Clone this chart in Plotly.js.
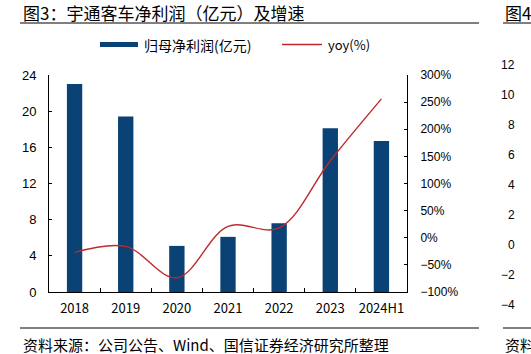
<!DOCTYPE html>
<html>
<head>
<meta charset="utf-8">
<script src="https://cdn.plot.ly/plotly-3.0.1.min.js"></script>
<style>
html,body{margin:0;padding:0;background:#fff;}
#chart{width:531px;height:354px;}
</style>
</head>
<body>
<div id="chart"></div>
<script>
// Data
const categories = ['2018', '2019', '2020', '2021', '2022', '2023', '2024H1'];
const netProfit = [23.0, 19.4, 5.1, 6.1, 7.6, 18.1, 16.7];   // 亿元
const yoy = [-27, -16, -74, 21, 18, 142, 256];              // %
const leftTicks = [0, 4, 8, 12, 16, 20, 24];
const rightTicks = [-100, -50, 0, 50, 100, 150, 200, 250, 300];
const ghostTicks = ['12', '10', '8', '6', '4', '2', '0', '−2', '−4'];

const W = 531, H = 354;
const L = 49, R = 407, T = 75, B = 292;
const px = x => (x - L) / (R - L);
const py = y => (B - y) / (B - T);

const cjk = '"Noto Sans CJK SC", "Liberation Sans", sans-serif';
const arial = '"Liberation Sans", Arial, sans-serif';
const barColor = '#0a4275';
const lineColor = '#c0282d';

const traces = [
  {
    type: 'bar', x: categories, y: netProfit, name: '归母净利润(亿元)',
    marker: {color: barColor}, width: 0.3, yaxis: 'y', showlegend: false,
    hoverinfo: 'skip'
  },
  {
    type: 'scatter', mode: 'lines', x: categories, y: yoy, name: 'yoy(%)',
    line: {color: lineColor, width: 1.4, shape: 'spline', smoothing: 1},
    yaxis: 'y2', showlegend: false, hoverinfo: 'skip'
  }
];

const shapes = [
  {type: 'line', xref: 'paper', yref: 'paper', x0: px(20), x1: px(479), y0: py(23), y1: py(23), line: {color: '#000', width: 1}},
  {type: 'line', xref: 'paper', yref: 'paper', x0: px(20), x1: px(479), y0: py(328), y1: py(328), line: {color: '#000', width: 1}},
  {type: 'line', xref: 'paper', yref: 'paper', x0: px(503), x1: px(532), y0: py(23), y1: py(23), line: {color: '#000', width: 1}},
  {type: 'line', xref: 'paper', yref: 'paper', x0: px(503), x1: px(532), y0: py(328), y1: py(328), line: {color: '#000', width: 1}},
  {type: 'rect', xref: 'paper', yref: 'paper', x0: px(100), x1: px(138), y0: py(47), y1: py(42), fillcolor: barColor, line: {width: 0}},
  {type: 'line', xref: 'paper', yref: 'paper', x0: px(282), x1: px(322), y0: py(44.5), y1: py(44.5), line: {color: lineColor, width: 1.4}}
];

const annotations = [
  {text: '图3：宇通客车净利润（亿元）及增速', xref: 'paper', yref: 'paper', x: px(21), y: py(12), xanchor: 'left', yanchor: 'middle', showarrow: false, font: {family: cjk, size: 17, color: '#000', weight: 'normal'}},
  {text: '资料来源：公司公告、Wind、国信证券经济研究所整理', xref: 'paper', yref: 'paper', x: px(21), y: py(344), xanchor: 'left', yanchor: 'middle', showarrow: false, font: {family: cjk, size: 15, color: '#000'}},
  {text: '归母净利润(亿元)', xref: 'paper', yref: 'paper', x: px(142), y: py(44.5), xanchor: 'left', yanchor: 'middle', showarrow: false, font: {family: cjk, size: 14, color: '#000'}},
  {text: 'yoy(%)', xref: 'paper', yref: 'paper', x: px(326), y: py(44.5), xanchor: 'left', yanchor: 'middle', showarrow: false, font: {family: cjk, size: 13, color: '#000'}},
  {text: '图4', xref: 'paper', yref: 'paper', x: px(503), y: py(12), xanchor: 'left', yanchor: 'middle', showarrow: false, font: {family: cjk, size: 17, color: '#000'}},
  {text: '资料', xref: 'paper', yref: 'paper', x: px(503), y: py(344), xanchor: 'left', yanchor: 'middle', showarrow: false, font: {family: cjk, size: 15, color: '#000'}}
];
ghostTicks.forEach((t, i) => {
  annotations.push({text: t, xref: 'paper', yref: 'paper', x: px(517), y: py(65 + 30 * i), xanchor: 'right', yanchor: 'middle', showarrow: false, font: {family: arial, size: 12, color: '#000'}});
});

const layout = {
  width: W, height: H,
  margin: {l: L, r: W - R, t: T, b: H - B, pad: 0},
  paper_bgcolor: '#fff', plot_bgcolor: '#fff',
  showlegend: false,
  xaxis: {
    type: 'category', range: [-0.5, 6.5], tickson: 'boundaries', tickangle: 0,
    ticks: 'inside', ticklen: 4, tickcolor: '#000', tickwidth: 1,
    showline: true, linecolor: '#000', linewidth: 1, showgrid: false, zeroline: false,
    tickfont: {family: cjk, size: 13, color: '#000'}, ticklabelstandoff: 4,
    fixedrange: true
  },
  yaxis: {
    range: [0, 24], tickvals: leftTicks, ticktext: leftTicks.map(String),
    ticks: 'inside', ticklen: 3, tickcolor: '#000',
    showline: true, linecolor: '#000', linewidth: 1, showgrid: false, zeroline: false,
    tickfont: {family: arial, size: 13, color: '#000'}, ticklabelstandoff: 9,
    fixedrange: true
  },
  yaxis2: {
    overlaying: 'y', side: 'right', range: [-100, 300],
    tickvals: rightTicks, ticktext: rightTicks.map(v => (v < 0 ? '−' + Math.abs(v) : v) + '%'),
    ticks: 'inside', ticklen: 3, tickcolor: '#000',
    showline: true, linecolor: '#000', linewidth: 1, showgrid: false, zeroline: false,
    tickfont: {family: arial, size: 12, color: '#000'}, ticklabelstandoff: 10,
    fixedrange: true
  },
  shapes: shapes,
  annotations: annotations
};

Plotly.newPlot('chart', traces, layout, {displayModeBar: false, staticPlot: true});
</script>
</body>
</html>
